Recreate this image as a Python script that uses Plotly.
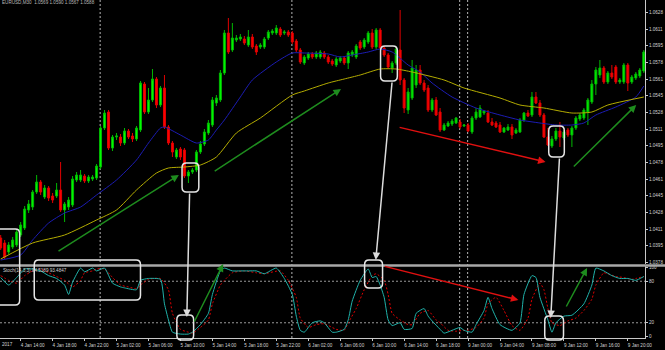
import plotly.graph_objects as go

# ---------------- data ----------------
bars = list(range(162))  # M30 bars, 4 Jan 11:30 -> 9 Jan 21:30

open_ = [1.0402,1.0397,1.0388,1.0393,1.0395,1.0405,1.0412,1.0430,1.0433,1.0448,
         1.0458,1.0443,1.0452,1.0444,1.0444,1.0450,1.0430,1.0433,1.0435,1.0460,
         1.0460,1.0464,1.0459,1.0461,1.0462,1.0473,1.0512,1.0528,1.0492,1.0503,
         1.0503,1.0497,1.0509,1.0504,1.0501,1.0510,1.0556,1.0528,1.0540,1.0561,
         1.0535,1.0552,1.0513,1.0497,1.0483,1.0491,1.0490,1.0464,1.0468,1.0470,
         1.0488,1.0496,1.0507,1.0515,1.0537,1.0540,1.0567,1.0607,1.0590,1.0600,
         1.0601,1.0601,1.0595,1.0603,1.0594,1.0593,1.0593,1.0602,1.0607,1.0607,
         1.0611,1.0607,1.0608,1.0607,1.0599,1.0590,1.0577,1.0582,1.0586,1.0583,
         1.0583,1.0587,1.0583,1.0579,1.0575,1.0579,1.0582,1.0577,1.0585,1.0583,
         1.0598,1.0593,1.0598,1.0607,1.0593,1.0610,1.0592,1.0585,1.0572,1.0577,
         1.0590,1.0560,1.0530,1.0542,1.0555,1.0570,1.0557,1.0552,1.0530,1.0540,
         1.0528,1.0510,1.0514,1.0516,1.0517,1.0518,1.0514,1.0515,1.0508,1.0522,
         1.0523,1.0527,1.0527,1.0518,1.0517,1.0515,1.0508,1.0510,1.0513,1.0507,
         1.0508,1.0520,1.0527,1.0525,1.0543,1.0537,1.0525,1.0503,1.0494,1.0501,
         1.0509,1.0502,1.0510,1.0505,1.0512,1.0521,1.0522,1.0528,1.0538,1.0556,
         1.0565,1.0572,1.0558,1.0567,1.0573,1.0558,1.0558,1.0575,1.0558,1.0562,
         1.0564,1.0569]
high = [1.0405,1.0400,1.0398,1.0403,1.0411,1.0418,1.0434,1.0440,1.0450,1.0465,
        1.0460,1.0455,1.0454,1.0447,1.0457,1.0478,1.0438,1.0443,1.0464,1.0468,
        1.0470,1.0466,1.0465,1.0465,1.0476,1.0514,1.0530,1.0530,1.0505,1.0507,
        1.0506,1.0512,1.0511,1.0507,1.0514,1.0559,1.0558,1.0552,1.0571,1.0563,
        1.0554,1.0565,1.0515,1.0499,1.0492,1.0493,1.0492,1.0470,1.0472,1.0490,
        1.0499,1.0511,1.0520,1.0543,1.0545,1.0570,1.0610,1.0622,1.0617,1.0605,
        1.0606,1.0604,1.0610,1.0606,1.0596,1.0597,1.0603,1.0610,1.0611,1.0615,
        1.0613,1.0610,1.0610,1.0609,1.0601,1.0592,1.0585,1.0588,1.0588,1.0589,
        1.0590,1.0589,1.0585,1.0581,1.0583,1.0584,1.0584,1.0589,1.0590,1.0596,
        1.0600,1.0602,1.0609,1.0611,1.0612,1.0612,1.0594,1.0587,1.0579,1.0593,
        1.0630,1.0562,1.0552,1.0580,1.0575,1.0575,1.0560,1.0555,1.0542,1.0543,
        1.0532,1.0517,1.0519,1.0521,1.0523,1.0521,1.0516,1.0517,1.0524,1.0532,
        1.0535,1.0530,1.0530,1.0522,1.0519,1.0518,1.0513,1.0516,1.0516,1.0512,
        1.0522,1.0528,1.0530,1.0548,1.0548,1.0540,1.0527,1.0512,1.0504,1.0512,
        1.0518,1.0510,1.0512,1.0514,1.0524,1.0527,1.0532,1.0542,1.0560,1.0573,
        1.0580,1.0574,1.0569,1.0575,1.0575,1.0562,1.0577,1.0577,1.0565,1.0568,
        1.0572,1.0590]
low = [1.0390,1.0381,1.0386,1.0391,1.0393,1.0403,1.0410,1.0427,1.0430,1.0446,
       1.0445,1.0441,1.0439,1.0437,1.0442,1.0428,1.0418,1.0430,1.0433,1.0458,
       1.0458,1.0457,1.0457,1.0459,1.0460,1.0471,1.0510,1.0490,1.0489,1.0500,
       1.0494,1.0495,1.0501,1.0498,1.0499,1.0508,1.0526,1.0526,1.0538,1.0532,
       1.0533,1.0511,1.0495,1.0483,1.0481,1.0480,1.0462,1.0457,1.0466,1.0468,
       1.0486,1.0494,1.0505,1.0513,1.0534,1.0538,1.0565,1.0586,1.0588,1.0598,
       1.0599,1.0595,1.0593,1.0591,1.0585,1.0591,1.0591,1.0600,1.0605,1.0605,
       1.0603,1.0605,1.0603,1.0596,1.0588,1.0576,1.0575,1.0580,1.0581,1.0581,
       1.0581,1.0581,1.0576,1.0574,1.0573,1.0577,1.0575,1.0571,1.0583,1.0581,
       1.0590,1.0591,1.0596,1.0591,1.0591,1.0590,1.0583,1.0571,1.0567,1.0575,
       1.0555,1.0527,1.0526,1.0540,1.0552,1.0555,1.0548,1.0528,1.0528,1.0524,
       1.0508,1.0509,1.0513,1.0514,1.0516,1.0511,1.0513,1.0508,1.0506,1.0520,
       1.0522,1.0525,1.0517,1.0514,1.0512,1.0507,1.0507,1.0509,1.0501,1.0506,
       1.0507,1.0518,1.0523,1.0523,1.0536,1.0523,1.0502,1.0494,1.0492,1.0499,
       1.0493,1.0500,1.0503,1.0493,1.0510,1.0519,1.0520,1.0515,1.0536,1.0545,
       1.0562,1.0556,1.0556,1.0561,1.0556,1.0556,1.0556,1.0549,1.0556,1.0560,
       1.0562,1.0567]
close = [1.0392,1.0383,1.0395,1.0400,1.0408,1.0415,1.0431,1.0436,1.0448,1.0458,
         1.0448,1.0452,1.0442,1.0440,1.0450,1.0430,1.0436,1.0440,1.0461,1.0465,
         1.0465,1.0459,1.0463,1.0463,1.0474,1.0512,1.0527,1.0492,1.0503,1.0504,
         1.0497,1.0509,1.0503,1.0501,1.0512,1.0557,1.0528,1.0540,1.0561,1.0535,
         1.0552,1.0513,1.0497,1.0488,1.0490,1.0483,1.0464,1.0468,1.0470,1.0488,
         1.0496,1.0508,1.0517,1.0540,1.0542,1.0567,1.0607,1.0588,1.0602,1.0602,
         1.0603,1.0597,1.0603,1.0593,1.0588,1.0595,1.0601,1.0608,1.0609,1.0612,
         1.0605,1.0608,1.0605,1.0598,1.0590,1.0578,1.0583,1.0586,1.0583,1.0587,
         1.0588,1.0583,1.0578,1.0576,1.0581,1.0582,1.0577,1.0587,1.0588,1.0594,
         1.0592,1.0600,1.0607,1.0593,1.0610,1.0592,1.0585,1.0573,1.0577,1.0591,
         1.0560,1.0532,1.0548,1.0572,1.0570,1.0557,1.0550,1.0530,1.0540,1.0525,
         1.0510,1.0515,1.0517,1.0519,1.0522,1.0513,1.0515,1.0509,1.0522,1.0528,
         1.0532,1.0529,1.0518,1.0515,1.0513,1.0508,1.0512,1.0513,1.0505,1.0510,
         1.0520,1.0527,1.0524,1.0543,1.0537,1.0525,1.0503,1.0495,1.0501,1.0509,
         1.0503,1.0508,1.0505,1.0512,1.0522,1.0525,1.0530,1.0540,1.0556,1.0570,
         1.0572,1.0558,1.0567,1.0563,1.0558,1.0560,1.0575,1.0557,1.0563,1.0566,
         1.0570,1.0588]

# moving averages (sampled where read)
ma_fast_idx = [0,5,8,12,16,20,24,29,34,37,40,41,45,49,52,54,56,60,63,69,
               73,76,82,85,88,92,95,98,102,105,108,113,119,125,130,135,139,143,146,149,
               154,159,161]
ma_fast = [1.0380,1.0385,1.0400,1.0417,1.0427,1.0433,1.0445,1.0460,1.0480,1.0497,
           1.0512,1.0513,1.0505,1.0497,1.0500,1.0510,1.0520,1.0543,1.0560,1.0578,
           1.0587,1.0587,1.0586,1.0583,1.0585,1.0588,1.0591,1.0588,1.0575,1.0568,
           1.0557,1.0543,1.0532,1.0525,1.0520,1.0517,1.0515,1.0515,1.0517,1.0525,
           1.0533,1.0543,1.0554]
ma_slow_idx = [0,8,16,24,29,34,39,42,46,50,54,59,65,73,76,82,86,90,95,99,
               103,111,116,125,130,136,143,148,152,161]
ma_slow = [1.0381,1.0397,1.0405,1.0420,1.0430,1.0450,1.0467,1.0472,1.0473,1.0475,
           1.0483,1.0507,1.0522,1.0545,1.0549,1.0557,1.0561,1.0565,1.0571,1.0571,
           1.0568,1.0560,1.0552,1.0542,1.0535,1.0532,1.0527,1.0528,1.0535,1.0543]

# stochastic (14,3,3)
stoch_k_idx = [0,2,4,6,8,10,12,14,16,17,18,20,21,23,24,26,28,30,31,34,
               35,37,40,41,42,43,45,47,48,50,52,53,55,56,58,60,62,64,66,69,
               71,73,74,75,76,78,80,81,83,84,86,87,88,90,92,93,94,95,96,97,
               98,100,101,103,104,106,107,108,110,111,113,115,116,118,119,121,122,123,125,128,
               130,131,133,134,135,137,138,139,141,143,146,148,149,151,153,155,157,159,161]
stoch_k = [85.4,74.5,85.4,97.7,97.7,94.9,88.1,84.0,74.5,60.9,78.6,99.0,93.6,99.0,94.9,99.0,77.2,71.8,70.4,67.7,
           81.3,84.0,82.7,47.3,24.1,6.4,3.7,3.7,6.4,17.3,33.6,60.9,94.9,99.0,94.9,94.9,94.9,94.9,90.8,99.0,
           84.0,60.9,29.6,9.1,6.4,20.0,22.7,20.0,6.4,6.4,10.5,24.1,51.3,81.3,97.7,85.4,86.8,74.5,56.8,24.1,
           15.9,20.0,10.5,11.8,33.6,40.5,29.6,22.7,10.5,5.0,9.1,13.2,9.1,6.4,17.3,37.7,56.8,40.5,17.3,9.1,
           20.0,60.9,88.1,85.4,56.8,24.1,6.4,20.0,29.6,30.9,47.3,74.5,99.0,94.9,88.1,84.0,84.0,81.3,86.8]
stoch_d_idx = [0,2,4,6,8,10,12,14,16,18,20,21,23,24,26,28,30,32,34,35,
               37,40,42,43,45,47,48,50,52,53,55,56,58,61,64,66,70,72,74,75,
               77,79,81,84,86,87,89,91,93,94,96,97,98,100,102,103,105,107,109,110,
               112,114,116,117,119,121,122,124,126,128,130,132,133,135,136,137,138,140,142,144,
               146,148,149,151,152,154,156,158,159,161]
stoch_d = [88.1,81.3,77.2,88.1,94.9,97.7,92.2,86.8,81.3,71.8,81.3,92.2,94.9,97.7,97.7,85.4,74.5,71.8,69.1,74.5,
           82.7,84.0,67.7,33.6,10.5,6.4,5.0,13.2,24.1,47.3,74.5,81.3,92.2,94.9,92.2,90.8,94.9,81.3,56.8,26.8,
           13.2,17.3,18.6,10.5,9.1,20.0,40.5,67.7,88.1,90.8,81.3,60.9,33.6,24.1,17.3,17.3,33.6,37.7,24.1,20.0,
           9.1,7.8,9.1,9.1,13.2,26.8,47.3,56.8,37.7,15.9,9.1,26.8,54.1,77.2,67.7,40.5,20.0,15.9,22.7,26.8,
           37.7,54.1,74.5,92.2,90.8,86.8,85.4,82.7,84.0,86.8]

time_tick_idx = [5,13,21,29,37,45,53,61,69,77,85,93,101,109,117,125,133,141,149,157]
time_tick_labels = ["4 Jan 14:00","4 Jan 18:00","4 Jan 22:00","5 Jan 02:00","5 Jan 06:00",
                    "5 Jan 10:00","5 Jan 14:00","5 Jan 18:00","5 Jan 22:00","6 Jan 02:00",
                    "6 Jan 06:00","6 Jan 10:00","6 Jan 14:00","6 Jan 18:00","9 Jan 00:00",
                    "9 Jan 04:00","9 Jan 08:00","9 Jan 12:00","9 Jan 16:00","9 Jan 20:00"]
price_ticks = [1.0628,1.0611,1.0595,1.0578,1.0561,1.0545,1.0528,1.0511,
               1.0495,1.0478,1.0461,1.0445,1.0428,1.0411,1.0395,1.0378]
stoch_ticks = [0, 20, 80, 100]
stoch_levels = [20, 80]
day_separators = [25, 73, 115, 117]

assert len(open_) == len(high) == len(low) == len(close) == len(bars)
assert len(ma_fast_idx) == len(ma_fast) and len(ma_slow_idx) == len(ma_slow)
assert len(stoch_k_idx) == len(stoch_k) and len(stoch_d_idx) == len(stoch_d)

# ---------------- figure ----------------
AX = '#c8c8c8'
FONT = dict(family='Liberation Sans', size=4.6, color='#d2d2d2')

fig = go.Figure()
fig.add_trace(go.Candlestick(
    x=bars, open=open_, high=high, low=low, close=close,
    increasing=dict(line=dict(color='#00b800', width=1), fillcolor='#00ff00'),
    decreasing=dict(line=dict(color='#e00000', width=1), fillcolor='#ff0000'),
    whiskerwidth=0, xaxis='x', yaxis='y', hoverinfo='skip'))
fig.add_trace(go.Scatter(x=ma_fast_idx, y=ma_fast, mode='lines', xaxis='x', yaxis='y',
                         line=dict(color='#1c1cb4', width=1, shape='spline', smoothing=0.6)))
fig.add_trace(go.Scatter(x=ma_slow_idx, y=ma_slow, mode='lines', xaxis='x', yaxis='y',
                         line=dict(color='#b4ac00', width=1, shape='spline', smoothing=0.6)))
fig.add_trace(go.Scatter(x=stoch_d_idx, y=stoch_d, mode='lines', xaxis='x', yaxis='y2',
                         line=dict(color='#e00000', width=1, dash='2px,2px', shape='spline', smoothing=0.5)))
fig.add_trace(go.Scatter(x=stoch_k_idx, y=stoch_k, mode='lines', xaxis='x', yaxis='y2',
                         line=dict(color='#20b2aa', width=1, shape='spline', smoothing=0.5)))

shapes = []
# day separators
for d in day_separators:
    shapes.append(dict(type='line', xref='x', yref='paper', x0=d - 0.1, x1=d - 0.1, y0=0, y1=1,
                       line=dict(color='#b4b4b4', width=1, dash='2px,2px'), layer='below'))
# stochastic levels
for lv in stoch_levels:
    shapes.append(dict(type='line', xref='paper', yref='y2', x0=0, x1=1, y0=lv, y1=lv,
                       line=dict(color='#9a9a9a', width=1, dash='2px,2px'), layer='below'))
# window separator
shapes.append(dict(type='line', xref='paper', yref='paper', x0=0, x1=1.035, y0=0.2145, y1=0.2145,
                   line=dict(color='#a8a8a8', width=2.5)))


def rounded(x0, x1, y0, y1, rx=1.1, ry=0.014):
    return (f"M{x0+rx},{y1} L{x1-rx},{y1} Q{x1},{y1} {x1},{y1-ry} L{x1},{y0+ry} "
            f"Q{x1},{y0} {x1-rx},{y0} L{x0+rx},{y0} Q{x0},{y0} {x0},{y0+ry} "
            f"L{x0},{y1-ry} Q{x0},{y1} {x0+rx},{y1} Z")

boxes = [(-1.4, 4.75, 0.0976, 0.3225), (8.4, 35.0, 0.1124, 0.2308),
         (45.4, 49.6, 0.4320, 0.5178), (44.1, 48.3, -0.0059, 0.0680),
         (95.1, 99.3, 0.7604, 0.8639), (91.1, 95.6, 0.1479, 0.2308),
         (137.2, 141.1, 0.5355, 0.6272), (136.2, 140.9, -0.0059, 0.0651)]
for b in boxes:
    shapes.append(dict(type='path', xref='x', yref='paper', path=rounded(*b),
                       line=dict(color='#e6e6e6', width=1.5)))

annotations = []
arrows = [  # head x, head y(paper), tail x, tail offset px, colour
    (46.6, 0.0621, 47.3, -125, '#dcdcdc'),
    (93.9, 0.2308, 98.0, -179, '#dcdcdc'),
    (137.7, 0.0592, 139.9, -161, '#dcdcdc'),
    (44.6, 0.4822, 14.1, 77, '#1e8c1e'),
    (85.2, 0.7367, 53.2, 83, '#1e8c1e'),
    (159.1, 0.6893, 143.1, 63, '#1e8c1e'),
    (55.7, 0.2189, 48.3, 59, '#1e8c1e'),
    (146.8, 0.2071, 141.4, 40, '#1e8c1e'),
    (136.4, 0.5207, 99.5, -35, '#e01010'),
    (129.6, 0.1124, 95.8, -34, '#e01010'),
]
for hx, hy, tx, ty, col in arrows:
    annotations.append(dict(x=hx, y=hy, xref='x', yref='paper', ax=tx, ay=ty, axref='x', ayref='pixel',
                            text='', showarrow=True, arrowhead=2, arrowsize=1, arrowwidth=1.5,
                            arrowcolor=col, standoff=0, startstandoff=0))

annotations.append(dict(x=0.0, y=0.994, xref='paper', yref='paper', xanchor='left', yanchor='middle',
                        text='EURUSD,M30  1.0569 1.0590 1.0567 1.0588', showarrow=False,
                        font=dict(family='Liberation Sans', size=4.6, color='#b8b8b8')))
annotations.append(dict(x=0.0015, y=0.201, xref='paper', yref='paper', xanchor='left', yanchor='middle',
                        text='Stoch(14,3,3) 94.5189 93.4847', showarrow=False, font=FONT))
annotations.append(dict(x=0.0, y=-0.0178, xref='paper', yref='paper', xanchor='left', yanchor='middle',
                        text='2017', showarrow=False, font=FONT))

fig.update_layout(
    width=665, height=350, margin=dict(l=0, r=20, t=0, b=12, autoexpand=False),
    paper_bgcolor='black', plot_bgcolor='black', showlegend=False,
    xaxis=dict(domain=[0, 1], range=[-0.172, 161.3], anchor='y2', automargin=False,
               tickvals=time_tick_idx, ticktext=time_tick_labels,
               ticks='outside', ticklen=2, tickcolor=AX, tickfont=FONT, ticklabelshift=12,
               ticklabeloverflow='allow', showgrid=False, zeroline=False,
               showline=True, linecolor=AX, linewidth=1, rangeslider=dict(visible=False)),
    yaxis=dict(domain=[0.2189, 1], range=[1.0376, 1.0640], side='right', anchor='x', automargin=False,
               tickvals=price_ticks, tickformat='.4f', ticks='outside', ticklen=2, tickcolor=AX,
               tickfont=FONT, ticklabeloverflow='allow', showgrid=False, zeroline=False,
               showline=True, linecolor=AX, linewidth=1),
    yaxis2=dict(domain=[0, 0.2130], range=[-2, 102], side='right', anchor='x', automargin=False,
                tickvals=stoch_ticks, ticks='outside', ticklen=2, tickcolor=AX,
                tickfont=FONT, ticklabeloverflow='allow', showgrid=False, zeroline=False,
                showline=True, linecolor=AX, linewidth=1),
    shapes=shapes, annotations=annotations, hovermode=False,
)

fig.write_html("out.html")
